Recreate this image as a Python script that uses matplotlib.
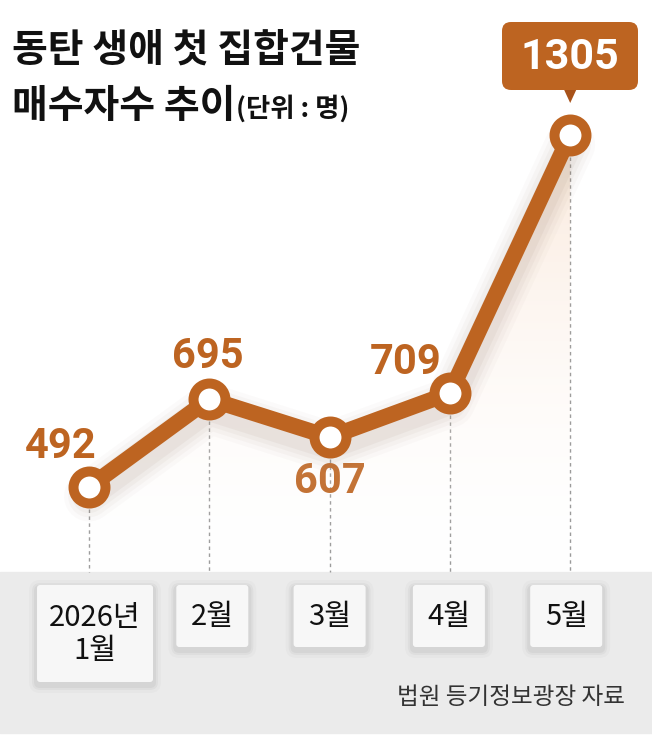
import numpy as np
import matplotlib
matplotlib.use("Agg")
import matplotlib.pyplot as plt
from matplotlib.patches import FancyBboxPatch, Rectangle, Polygon

plt.rcParams['font.family'] = ['Noto Sans CJK KR', 'DejaVu Sans']

# data
months = ['2026년\n1월', '2월', '3월', '4월', '5월']
buyers = [492, 695, 607, 709, 1305]
title1 = '동탄 생애 첫 집합건물'
title2 = '매수자수 추이'
unit = '(단위 : 명)'
source = '법원 등기정보광장 자료'

ORANGE = '#bd6421'
W, H = 652, 735

fig = plt.figure(figsize=(W / 100, H / 100), dpi=100)
fig.patch.set_facecolor('white')

# background axes in pixel coords
bg = fig.add_axes([0, 0, 1, 1])
bg.set_xlim(0, W)
bg.set_ylim(H, 0)
bg.axis('off')

# data axes
ax = fig.add_axes([0, 0, 1, 1], zorder=2)
ax.patch.set_alpha(0)
ax.axis('off')
ax.set_xlim(-0.74, 4.68)
ax.set_ylim(-81, 1617)

x = np.arange(len(buyers))
y = np.array(buyers, dtype=float)

def px(i, v):
    p = ax.transData.transform((i, v))
    return p[0], H - p[1]

# gray band at the bottom
band_top = 572
bg.add_patch(Rectangle((0, band_top), W, 161, color='#ebebeb', zorder=0))

# gradient under the line
ybot = -81
verts = [(x[0], ybot)] + list(zip(x, y)) + [(x[-1], ybot)]
poly = Polygon(verts, closed=True, facecolor='none', edgecolor='none')
ax.add_patch(poly)
grad = np.linspace(0, 1, 256).reshape(-1, 1)
cmap = matplotlib.colors.LinearSegmentedColormap.from_list(
    'g', [(1, 1, 1, 0), (0.96, 0.80, 0.68, 0.45)])
im = ax.imshow(grad, extent=[x[0], x[-1], 250, 1305], origin='lower',
               cmap=cmap, aspect='auto', zorder=1)
im.set_clip_path(poly)

# dashed guides
for i, v in zip(x, y):
    xx, yy = px(i, v)
    bg.plot([xx, xx], [yy + 22, band_top], ls=(0, (2.5, 2.5)), color='#9a9a9a',
            lw=1.0, zorder=1)

# soft shadow under the line
for lw, a in [(36, 0.025), (30, 0.03), (24, 0.04), (18, 0.05)]:
    ax.plot(x, y - 22, color='#6b4a35', lw=lw, alpha=a, solid_capstyle='round',
            solid_joinstyle='round', zorder=2)

ax.plot(x, y, color=ORANGE, lw=11.5, solid_joinstyle='miter', zorder=3)
ax.plot(x, y, 'o', ms=23, mfc='white', mec=ORANGE, mew=7.2, zorder=4)

# value labels
offsets = [(-28, 40), (-2, 43), (0, -44), (-44, 31)]
for i in range(4):
    xx, yy = px(x[i], y[i])
    bg.text(xx + offsets[i][0], yy - offsets[i][1], str(buyers[i]),
            color=ORANGE, fontsize=30, fontweight='bold', ha='center',
            va='center', family=['Roboto', 'DejaVu Sans'], zorder=5)

# callout for last value
xx, yy = px(x[-1], y[-1])
bx0, by0, bw, bh = 502, 22, 136, 68
bg.add_patch(FancyBboxPatch((bx0, by0), bw, bh,
                            boxstyle='round,pad=0,rounding_size=9',
                            fc=ORANGE, ec='none', zorder=5))
bg.add_patch(Polygon([(xx - 6, by0 + bh), (xx + 6, by0 + bh), (xx, by0 + bh + 13)],
                     closed=True, fc='#a8521a', ec='none', zorder=5))
bg.text(bx0 + bw / 2, by0 + bh / 2 + 1, str(buyers[-1]), color='white',
        fontsize=31, fontweight='bold', ha='center', va='center',
        family=['Roboto', 'DejaVu Sans'], zorder=6)

# month boxes
box_w = [116, 72, 72, 72, 72]
box_h = [97, 62, 62, 62, 62]
box_dx = [6, 3, 0, -1, -4]
for i, lab in enumerate(months):
    cx = px(x[i], y[i])[0] + box_dx[i]
    x0 = cx - box_w[i] / 2
    for s, a in [(8, 0.02), (5, 0.03), (3, 0.04)]:
        bg.add_patch(FancyBboxPatch((x0 - s, 585 - s + 3), box_w[i] + 2 * s,
                                    box_h[i] + 2 * s,
                                    boxstyle='round,pad=0,rounding_size=%d' % (s + 3),
                                    fc='black', ec='none', alpha=a, zorder=1))
    bg.add_patch(FancyBboxPatch((x0, 585), box_w[i], box_h[i],
                                boxstyle='round,pad=0,rounding_size=3',
                                fc='#f7f7f7', ec='none', zorder=2))
    bg.text(cx, 585 + box_h[i] / 2 + 1, lab, ha='center', va='center',
            fontsize=21, color='#111111', linespacing=1.1, zorder=3)

# titles
bg.text(12, 50, title1, fontsize=28, fontweight='bold', color='#111111',
        ha='left', va='center')
t2 = bg.text(12, 106, title2, fontsize=28, fontweight='bold', color='#111111',
             ha='left', va='center')
fig.canvas.draw()
bb = t2.get_window_extent()
bg.text(bb.x1 + 1, 109, unit, fontsize=19, fontweight='bold', color='#111111',
        ha='left', va='center')

bg.text(625, 697, source, fontsize=17, color='#333333', ha='right', va='center')

fig.savefig('out.png', dpi=100)
